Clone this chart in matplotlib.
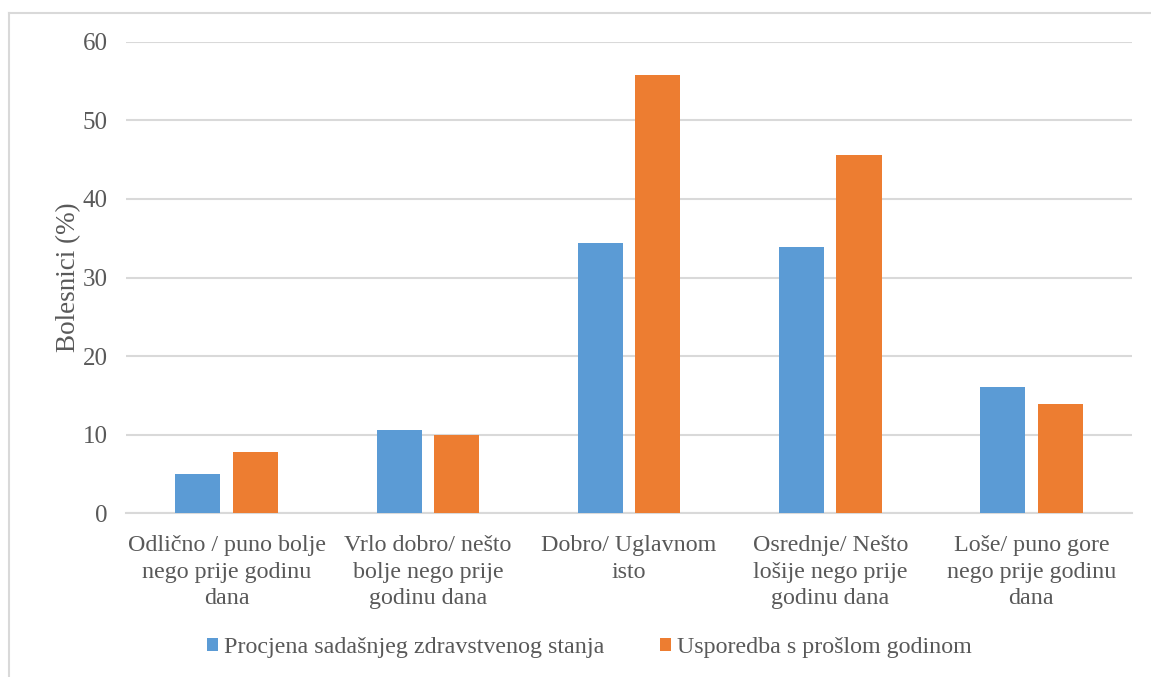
import matplotlib.pyplot as plt
from matplotlib.lines import Line2D
import numpy as np

categories = [
    "Odlično / puno bolje\nnego prije godinu\ndana",
    "Vrlo dobro/ nešto\nbolje nego prije\ngodinu dana",
    "Dobro/ Uglavnom\nisto",
    "Osrednje/ Nešto\nlošije nego prije\ngodinu dana",
    "Loše/ puno gore\nnego prije godinu\ndana",
]
current_state = [5.0, 10.6, 34.4, 33.9, 16.1]
vs_last_year = [7.8, 10.0, 55.8, 45.6, 13.9]
series_names = ["Procjena sadašnjeg zdravstvenog stanja", "Usporedba s prošlom godinom"]
yticks = [0, 10, 20, 30, 40, 50, 60]


def main() -> None:
    plt.rcParams["font.family"] = ["Liberation Serif", "DejaVu Serif"]
    text_color = "#595959"
    grid_color = "#D9D9D9"

    fig = plt.figure(figsize=(11.51, 6.77), dpi=100)
    ax = fig.add_axes([0.1095, 0.2422, 0.874, 0.6958])

    x = np.arange(len(categories))
    width = 0.224
    offset = 0.143
    ax.bar(x - offset, current_state, width, color="#5B9BD5", label=series_names[0], zorder=3)
    ax.bar(x + offset, vs_last_year, width, color="#ED7D31", label=series_names[1], zorder=3)

    ax.set_xlim(-0.5, len(categories) - 0.5)
    ax.set_ylim(0, 60)
    ax.set_yticks(yticks)
    ax.set_xticks(x)
    ax.set_xticklabels(categories, fontsize=17.3, color=text_color, linespacing=1.35)
    ax.tick_params(axis="y", labelsize=18, colors=text_color, length=0, pad=13)
    ax.tick_params(axis="x", length=0, pad=16)

    ax.grid(axis="y", color=grid_color, linewidth=1.5, zorder=0)
    for side in ["top", "right", "left"]:
        ax.spines[side].set_visible(False)
    ax.spines["bottom"].set_color(grid_color)
    ax.spines["bottom"].set_linewidth(1.5)

    ax.set_ylabel("Bolesnici (%)", fontsize=19.5, color=text_color, labelpad=1)

    ax.legend(loc="center", bbox_to_anchor=(0.512, 1 - 648 / 677), bbox_transform=fig.transFigure,
              ncol=2, frameon=False, fontsize=17.3, handlelength=0.45, handleheight=0.45,
              handletextpad=0.25, columnspacing=2.3, labelcolor=text_color)

    # outer chart border (only top and left visible in the crop)
    fig.add_artist(Line2D([8.5 / 1151, 1.0], [1 - 12.5 / 677] * 2, transform=fig.transFigure,
                          color=grid_color, linewidth=1.5))
    fig.add_artist(Line2D([8.5 / 1151] * 2, [0.0, 1 - 12.5 / 677], transform=fig.transFigure,
                          color=grid_color, linewidth=1.5))

    fig.savefig("out.png", dpi=100, facecolor="white")
    plt.close(fig)


if __name__ == "__main__":
    main()
